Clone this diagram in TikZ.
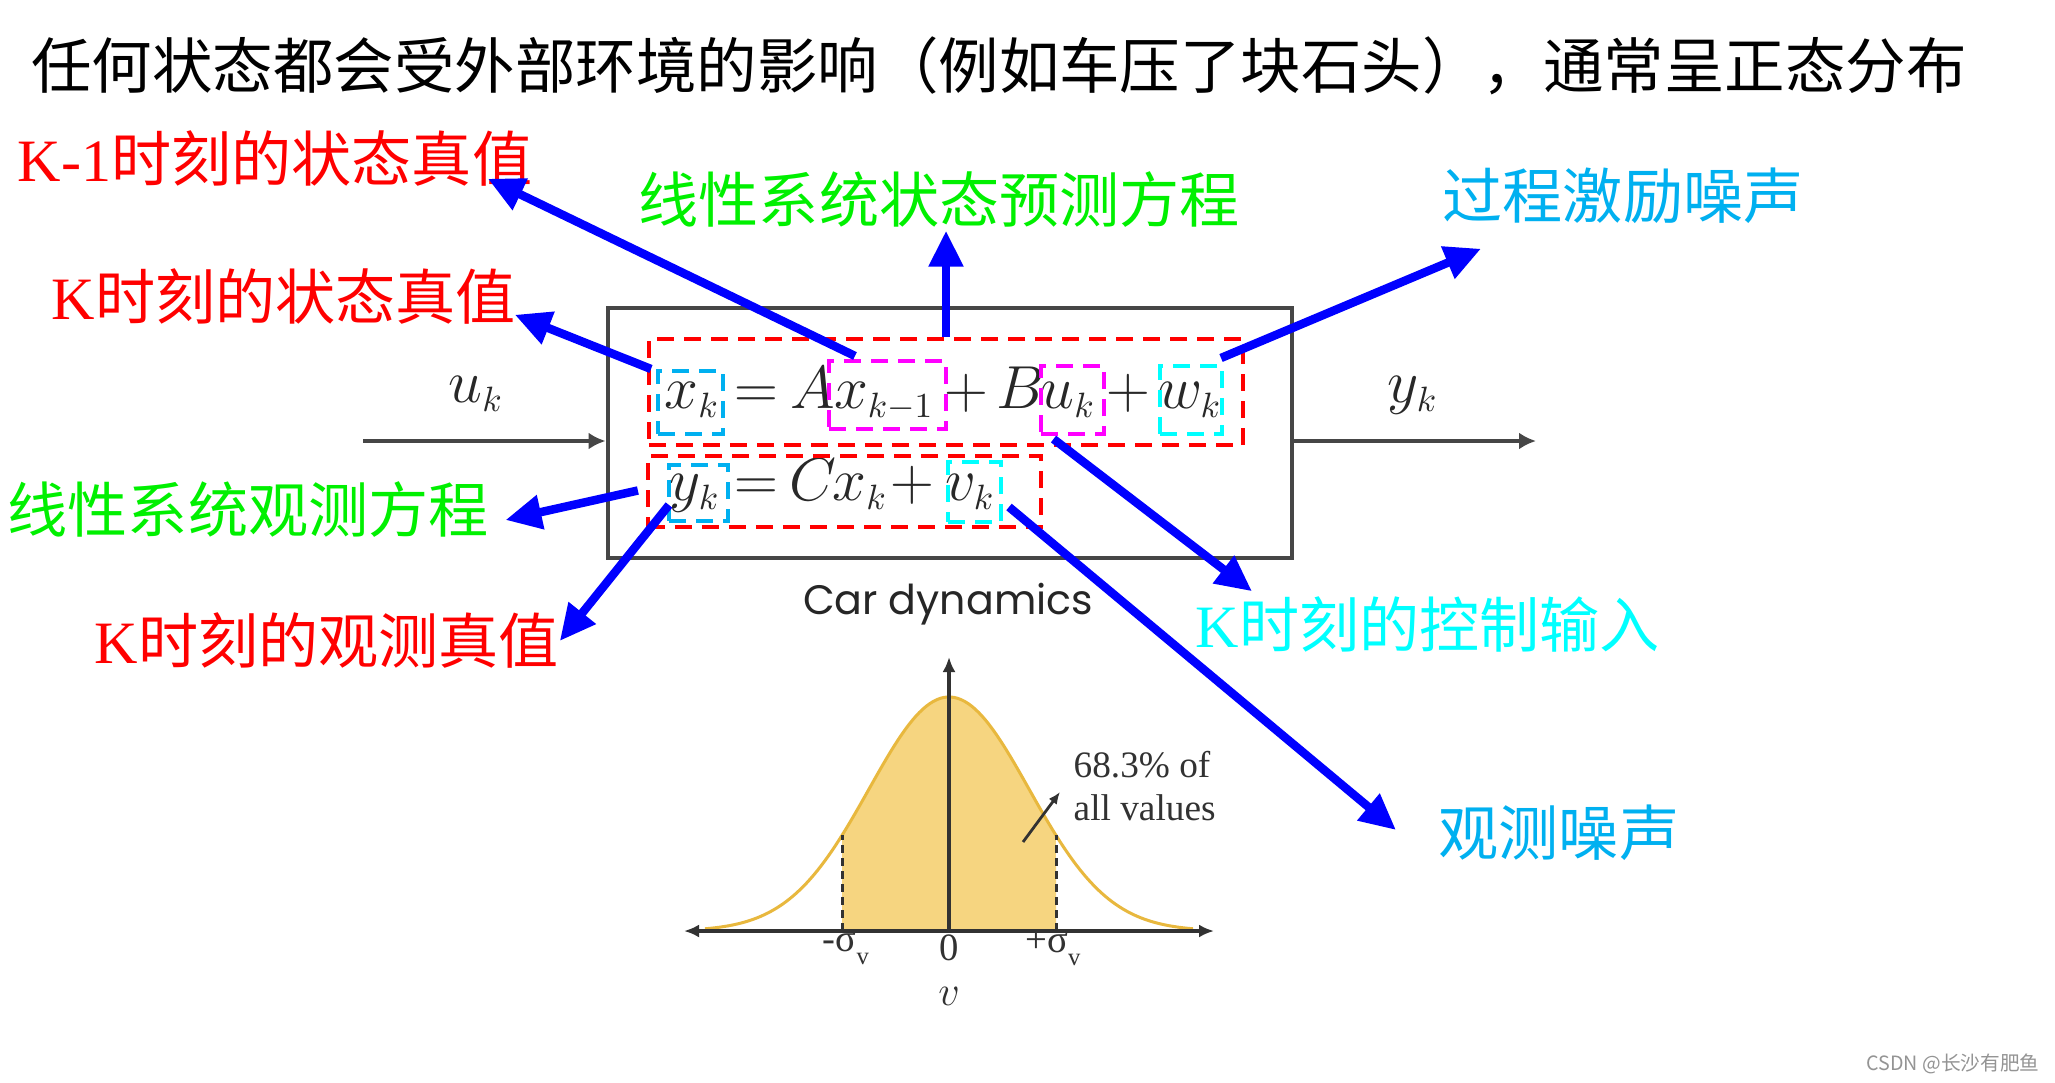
\documentclass[tikz,border=0pt]{standalone}
\usepackage[no-math]{fontspec}
\setmainfont{Liberation Serif}
\newfontfamily\cjk{Noto Sans CJK SC}
\newfontfamily\geo{Poppins}
\usetikzlibrary{arrows.meta,calc}
\definecolor{kred}{RGB}{255,0,0}
\definecolor{kgreen}{RGB}{0,240,0}
\definecolor{kblue}{RGB}{0,176,240}
\definecolor{kcyan}{RGB}{0,255,255}
\definecolor{kmag}{RGB}{255,0,255}
\definecolor{arrblue}{RGB}{0,0,255}
\definecolor{boxgray}{RGB}{70,70,70}
\definecolor{eqgray}{RGB}{40,40,40}
\definecolor{gfill}{RGB}{246,213,128}
\definecolor{gline}{RGB}{232,184,62}
\definecolor{axgray}{RGB}{50,50,50}
\tikzset{
  lbl/.style={inner sep=0pt, anchor=west, font=\fontsize{17.1}{20}\selectfont\cjk, text height=0.52cm, text depth=0.06cm},
  eqt/.style={inner sep=0pt, anchor=base, text=eqgray, font=\fontsize{17.28}{20}\selectfont},
  dbox/.style={draw, line width=0.04cm, dash pattern=on 0.17cm off 0.1cm, inner sep=0pt},
  barrow/.style={draw=arrblue, line width=0.085cm, -{Triangle[length=0.36cm,width=0.33cm]}},
  garrow/.style={draw=boxgray, line width=0.045cm, -{Latex[length=0.17cm,width=0.17cm]}},
  axlbl/.style={inner sep=0pt, font=\fontsize{11}{13}\selectfont, text=axgray}
}
\begin{document}
\begin{tikzpicture}[x=0.01cm,y=-0.01cm]
\useasboundingbox (0,0) rectangle (2055,1082);
\fill[white] (0,0) rectangle (2055,1082);

% title
\node[inner sep=0pt, font=\fontsize{17.2}{20}\selectfont\cjk] (title) at (999,66) {任何状态都会受外部环境的影响（例如车压了块石头），通常呈正态分布};

% labels
\node[lbl, text=kred] (lK1) at (17,158) {{\rmfamily K-1}时刻的状态真值};
\node[lbl, text=kred] (lKs) at (51,296) {{\rmfamily K}时刻的状态真值};
\node[lbl, text=kgreen] (lpred) at (638,199) {线性系统状态预测方程};
\node[lbl, text=kblue] (lwn) at (1442,195) {过程激励噪声};
\node[lbl, text=kgreen] (lobs) at (7,509) {线性系统观测方程};
\node[lbl, text=kred] (lKo) at (94,640) {{\rmfamily K}时刻的观测真值};
\node[lbl, text=kcyan] (lu) at (1195,624) {{\rmfamily K}时刻的控制输入};
\node[lbl, text=kblue] (lvn) at (1438,832) {观测噪声};

% system box
\node[draw=boxgray, line width=0.045cm, minimum width=6.84cm, minimum height=2.5cm, inner sep=0pt] (box) at (950,433) {};
\coordinate (inp) at (363,441);
\coordinate (outp) at (1536,441);
\draw[garrow] (inp) -- (inp -| box.west);
\draw[garrow] (box.east |- outp) -- (outp);
\node[eqt] (ulbl) at (476,402) {$u_{\scriptscriptstyle k}$};
\node[eqt] (ylbl) at (1413,402) {$y_{\scriptscriptstyle k}$};
\node[inner sep=0pt, anchor=base, text=black!85, font=\fontsize{11.7}{14}\selectfont\geo] (car) at (948,614) {Car dynamics};

% equations
\node[eqt] (xk) at (692,408) {$x_{\scriptscriptstyle k}$};
\node[eqt] (eq1) at (756,408) {$=$};
\node[eqt] (A) at (813,408) {$A$};
\node[eqt] (xkm1) at (884,408) {$x_{\scriptscriptstyle k-1}$};
\node[eqt] (p1) at (966,408) {$+$};
\node[eqt] (B) at (1021,408) {$B$};
\node[eqt] (uk) at (1068,408) {$u_{\scriptscriptstyle k}$};
\node[eqt] (p2) at (1128,408) {$+$};
\node[eqt] (wk) at (1190,408) {$w_{\scriptscriptstyle k}$};
\node[eqt] (yk) at (695,500) {$y_{\scriptscriptstyle k}$};
\node[eqt] (eq2) at (756,500) {$=$};
\node[eqt] (C) at (813,500) {$C$};
\node[eqt] (xk2) at (860,500) {$x_{\scriptscriptstyle k}$};
\node[eqt] (p3) at (912,500) {$+$};
\node[eqt] (vk) at (970,500) {$v_{\scriptscriptstyle k}$};

% dashed boxes
\node[dbox, draw=kred, minimum width=5.94cm, minimum height=1.06cm] (r1) at (946,392) {};
\node[dbox, draw=kred, minimum width=3.93cm, minimum height=0.71cm] (r2) at (844.5,491.5) {};
\node[dbox, draw=kblue, minimum width=0.65cm, minimum height=0.63cm] (bxk) at (690.5,402.5) {};
\node[dbox, draw=kmag, minimum width=1.17cm, minimum height=0.68cm] (bxkm1) at (887.5,395) {};
\node[dbox, draw=kmag, minimum width=0.63cm, minimum height=0.68cm] (buk) at (1072.5,400) {};
\node[dbox, draw=kcyan, minimum width=0.62cm, minimum height=0.68cm] (bwk) at (1191,400) {};
\node[dbox, draw=kblue, minimum width=0.59cm, minimum height=0.56cm] (byk) at (698.5,493) {};
\node[dbox, draw=kcyan, minimum width=0.53cm, minimum height=0.60cm] (bvk) at (974.5,492) {};

% blue arrows
\draw[barrow] ($(bxkm1.north west)+(28,-3)$) -- ($(lK1.south east)+(-45,-9)$);
\draw[barrow] ($(bxk.north west)+(-5,0)$) -- ($(lKs.south east)+(-2,-11)$);
\draw[barrow] ($(r2.west)+(-8,-1)$) -- ($(lobs.east)+(16,11)$);
\draw[barrow] ($(byk.west)+(2,12)$) -- ($(lKo.east)+(0,1)$);
\draw[barrow] (r1.north) -- ($(r1.north |- lpred.south)+(0,2)$);
\draw[barrow] ($(bwk.north east)+(-3,-6)$) -- ($(lwn.south west)+(39,24)$);
\draw[barrow] ($(buk.south)+(-19,3)$) -- ($(lu.north west)+(57,-3)$);
\draw[barrow] ($(bvk.east)+(6,15)$) -- ($(lvn.west)+(-42,-2)$);

% gaussian
\fill[gfill] (842,931) -- plot[domain=-1.3375:1.3375, samples=60] ({949+80*\x},{931-234*exp(-\x*\x/2)}) -- (1056,931) -- cycle;
\draw[gline, line width=0.03cm] plot[domain=-3.05:3.05, samples=140] ({949+80*\x},{931-234*exp(-\x*\x/2)});
\draw[axgray, line width=0.03cm, dash pattern=on 0.08cm off 0.05cm] (842,931) -- (842,835);
\draw[axgray, line width=0.03cm, dash pattern=on 0.08cm off 0.05cm] (1056,931) -- (1056,835);
\draw[axgray, line width=0.035cm, {Latex[length=0.15cm,width=0.13cm]}-{Latex[length=0.15cm,width=0.13cm]}] (684,931) -- (1214,931);
\draw[axgray, line width=0.035cm, -{Latex[length=0.15cm,width=0.13cm]}] (949,931) -- (949,657);
\node[axlbl] (lms) at (846,948) {-σ\raisebox{-0.35em}{\fontsize{7}{8}\selectfont v}};
\node[axlbl] (lzero) at (949,948) {0};
\node[axlbl] (lps) at (1053,948) {+σ\raisebox{-0.35em}{\fontsize{7}{8}\selectfont v}};
\node[inner sep=0pt, text=axgray, font=\fontsize{12}{14}\selectfont] (lv) at (949,996) {$v$};
\node[inner sep=0pt, anchor=west, align=left, text=axgray, font=\fontsize{10.6}{12}\selectfont] (pct) at (1073,786) {68.3\% of\\all values};
\coordinate (pa) at (1023,842);
\draw[axgray, line width=0.028cm, -{Latex[length=0.12cm,width=0.1cm]}] (pa) -- ($(pct.west)+(-13,6)$);

% watermark
\node[inner sep=0pt, text=black!42, font=\fontsize{5.6}{7}\selectfont\cjk] (wm) at (1953,1064) {CSDN @长沙有肥鱼};
\end{tikzpicture}
\end{document}
